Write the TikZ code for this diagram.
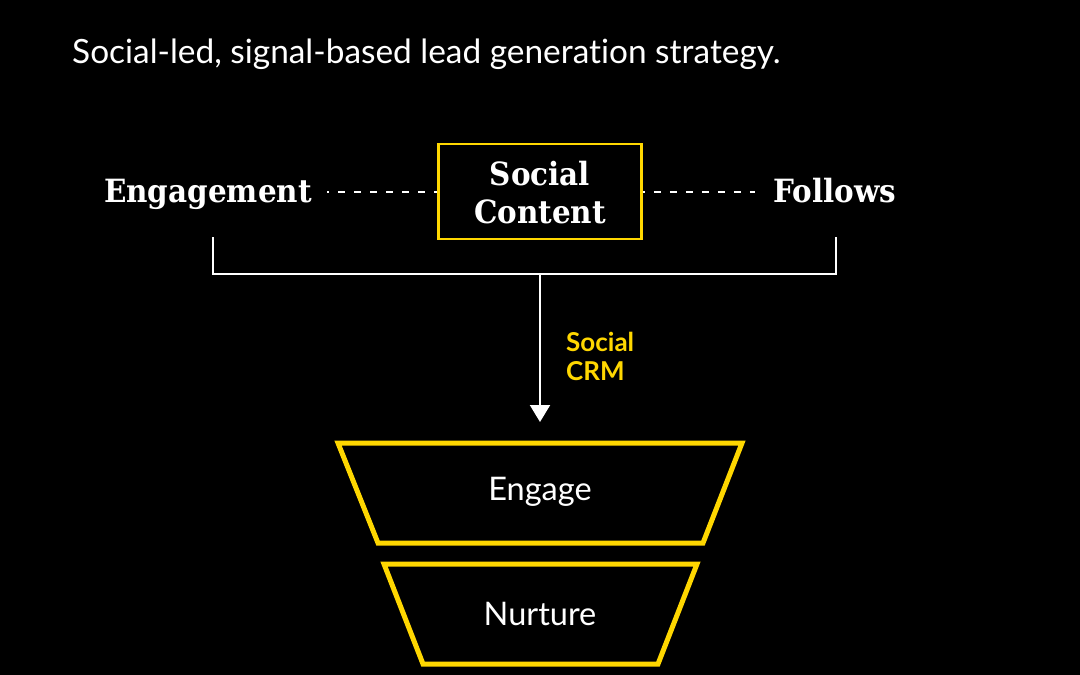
\documentclass[tikz,border=0pt]{standalone}
\usepackage{fontspec}
\setmainfont{Lato}[Ligatures=NoCommon]
\newfontfamily\hserif[FakeStretch=0.92]{DejaVu Serif}
\usetikzlibrary{arrows.meta}
\definecolor{gold}{HTML}{FFD700}
\begin{document}
\begin{tikzpicture}[x=1pt,y=-1pt,
  subtxt/.style={anchor=base west, inner sep=0, text=white, font=\fontsize{33.4}{40}\selectfont},
  sertxt/.style={inner sep=0, text=white, font=\hserif\bfseries\fontsize{32}{38}\selectfont},
  crmtxt/.style={anchor=base west, inner sep=0, text=gold, align=left, font=\bfseries\fontsize{26}{28.5}\selectfont},
  funtxt/.style={inner sep=0, text=white, font=\fontsize{32.5}{36}\selectfont},
  funnel/.style={draw=gold, line width=5pt, line join=miter},
  dashln/.style={draw=white, line width=1.7pt, dash pattern=on 7pt off 9pt, dash phase=5pt},
  brk/.style={draw=white, line width=2.5pt},
]
\fill[black] (0,0) rectangle (1080,675);
\useasboundingbox (0,0) rectangle (1080,675);

\node[subtxt] (sub) at (72,63) {Social-led, signal-based lead generation strategy.};

\node[sertxt, anchor=base] (eng) at (208,202) {Engagement};
\node[sertxt, anchor=base] (fol) at (835,202) {Follows};
\node[draw=gold, line width=2.5pt, minimum width=203pt, minimum height=95pt] (sc) at (540,191.5) {};
\node[sertxt, anchor=base] (sc1) at (540,185) {Social};
\node[sertxt, anchor=base] (sc2) at (540,223) {Content};

\coordinate (dl) at (327,192);
\coordinate (dr) at (755,192);
\draw[dashln] (dl) -- (dl -| sc.west);
\draw[dashln] (dr -| sc.east) -- (dr);

\coordinate (bl) at (213,237);
\coordinate (br) at (836,237);
\coordinate (bm) at (540,274);
\draw[brk] (bl) |- (bm) -| (br);

\coordinate (f1top) at (540,443);
\draw[white, line width=2pt, -{Triangle[width=20pt,length=17pt]}, shorten >=21pt] (bm) -- (f1top);
\node[crmtxt] (crm) at (566,380) {Social\\CRM};

\draw[funnel] (338,443) -- (742,443) -- (703,543) -- (378,543) -- cycle;
\node[funtxt] (engage) at (540,492) {Engage};
\draw[funnel] (384,564) -- (697,564) -- (658,664) -- (423,664) -- cycle;
\node[funtxt] (nurture) at (540,614) {Nurture};
\end{tikzpicture}
\end{document}
